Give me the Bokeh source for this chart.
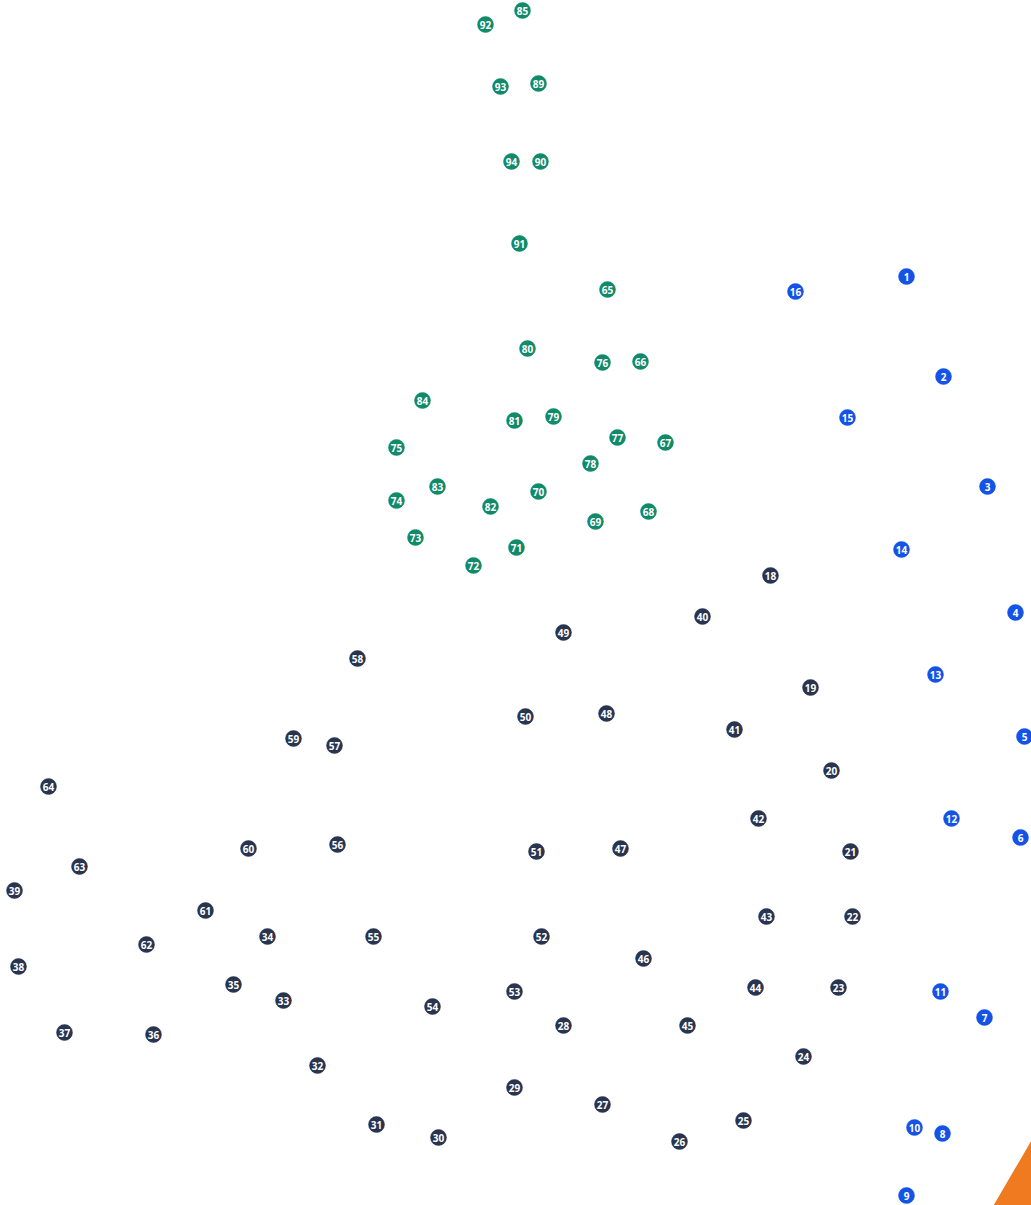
from bokeh.plotting import figure
from bokeh.models import ColumnDataSource, Range1d
from bokeh.embed import file_html
from bokeh.resources import INLINE
from bokeh.core.properties import value

# Dot positions (x to the right, y upward), grouped by colour series
blue_labels = [1, 2, 3, 4, 5, 6, 7, 8, 9, 10, 11, 12, 13, 14, 15, 16]
blue_x = [906, 943, 987, 1015, 1024, 1020, 984, 942, 906, 914, 940, 951, 935, 901, 847, 795]
blue_y = [929, 829, 719, 593, 469, 368, 188, 72, 10, 78, 214, 387, 531, 656, 788, 914]

navy_labels = [18, 19, 20, 21, 22, 23, 24, 25, 26, 27, 28, 29, 30, 31, 32, 33, 34, 35, 36, 37,
               38, 39, 40, 41, 42, 43, 44, 45, 46, 47, 48, 49, 50, 51, 52, 53, 54, 55, 56, 57,
               58, 59, 60, 61, 62, 63, 64]
navy_x = [770, 810, 831, 850, 852, 838, 803, 743, 679, 602, 563, 514, 438, 376, 317, 283, 267, 233, 153, 64,
          18, 14, 702, 734, 758, 766, 755, 687, 643, 620, 606, 563, 525, 536, 541, 514, 432, 373, 337, 334,
          357, 293, 248, 205, 146, 79, 48]
navy_y = [630, 518, 435, 354, 289, 218, 149, 85, 64, 101, 180, 118, 68, 81, 140, 205, 269, 221, 171, 173,
          239, 315, 589, 476, 387, 289, 218, 180, 247, 357, 492, 573, 489, 354, 269, 214, 199, 269, 361, 460,
          547, 467, 357, 295, 261, 339, 419]

green_labels = [65, 66, 67, 68, 69, 70, 71, 72, 73, 74, 75, 76, 77, 78, 79, 80, 81, 82, 83, 84,
                85, 89, 90, 91, 92, 93, 94]
green_x = [607, 640, 665, 648, 595, 538, 516, 473, 415, 396, 396, 602, 617, 590, 553, 527, 514, 490, 437, 422,
           522, 538, 540, 519, 485, 500, 511]
green_y = [916, 844, 763, 694, 684, 714, 658, 640, 668, 705, 758, 843, 768, 742, 789, 857, 785, 699, 719, 805,
           1195, 1122, 1044, 962, 1181, 1119, 1044]

# Orange corner decoration
corner_x = [1031, 993, 1031]
corner_y = [65, 0, 0]

BLUE = "#1552e6"
NAVY = "#29344f"
GREEN = "#118a69"
ORANGE = "#f07a1f"

p = figure(width=1031, height=1205, output_backend="svg", toolbar_location=None,
           x_range=Range1d(0, 1031), y_range=Range1d(0, 1205),
           min_border=0, border_fill_color="white", background_fill_color="white")
p.axis.visible = False
p.grid.visible = False
p.outline_line_color = None

p.patch(corner_x, corner_y, fill_color=ORANGE, line_color=None)

for labels, xs, ys, col in [(blue_labels, blue_x, blue_y, BLUE),
                            (navy_labels, navy_x, navy_y, NAVY),
                            (green_labels, green_x, green_y, GREEN)]:
    src = ColumnDataSource(dict(x=xs, y=ys, t=[str(v) for v in labels]))
    p.scatter("x", "y", source=src, size=16, fill_color=col, line_color=col, line_width=0.5)
    p.text("x", "y", text="t", source=src, text_color="white", text_align="center",
           text_baseline="middle", text_font=value("Open Sans"), text_font_size="10px",
           text_font_style="bold")

open("out.html", "w").write(file_html(p, INLINE))
